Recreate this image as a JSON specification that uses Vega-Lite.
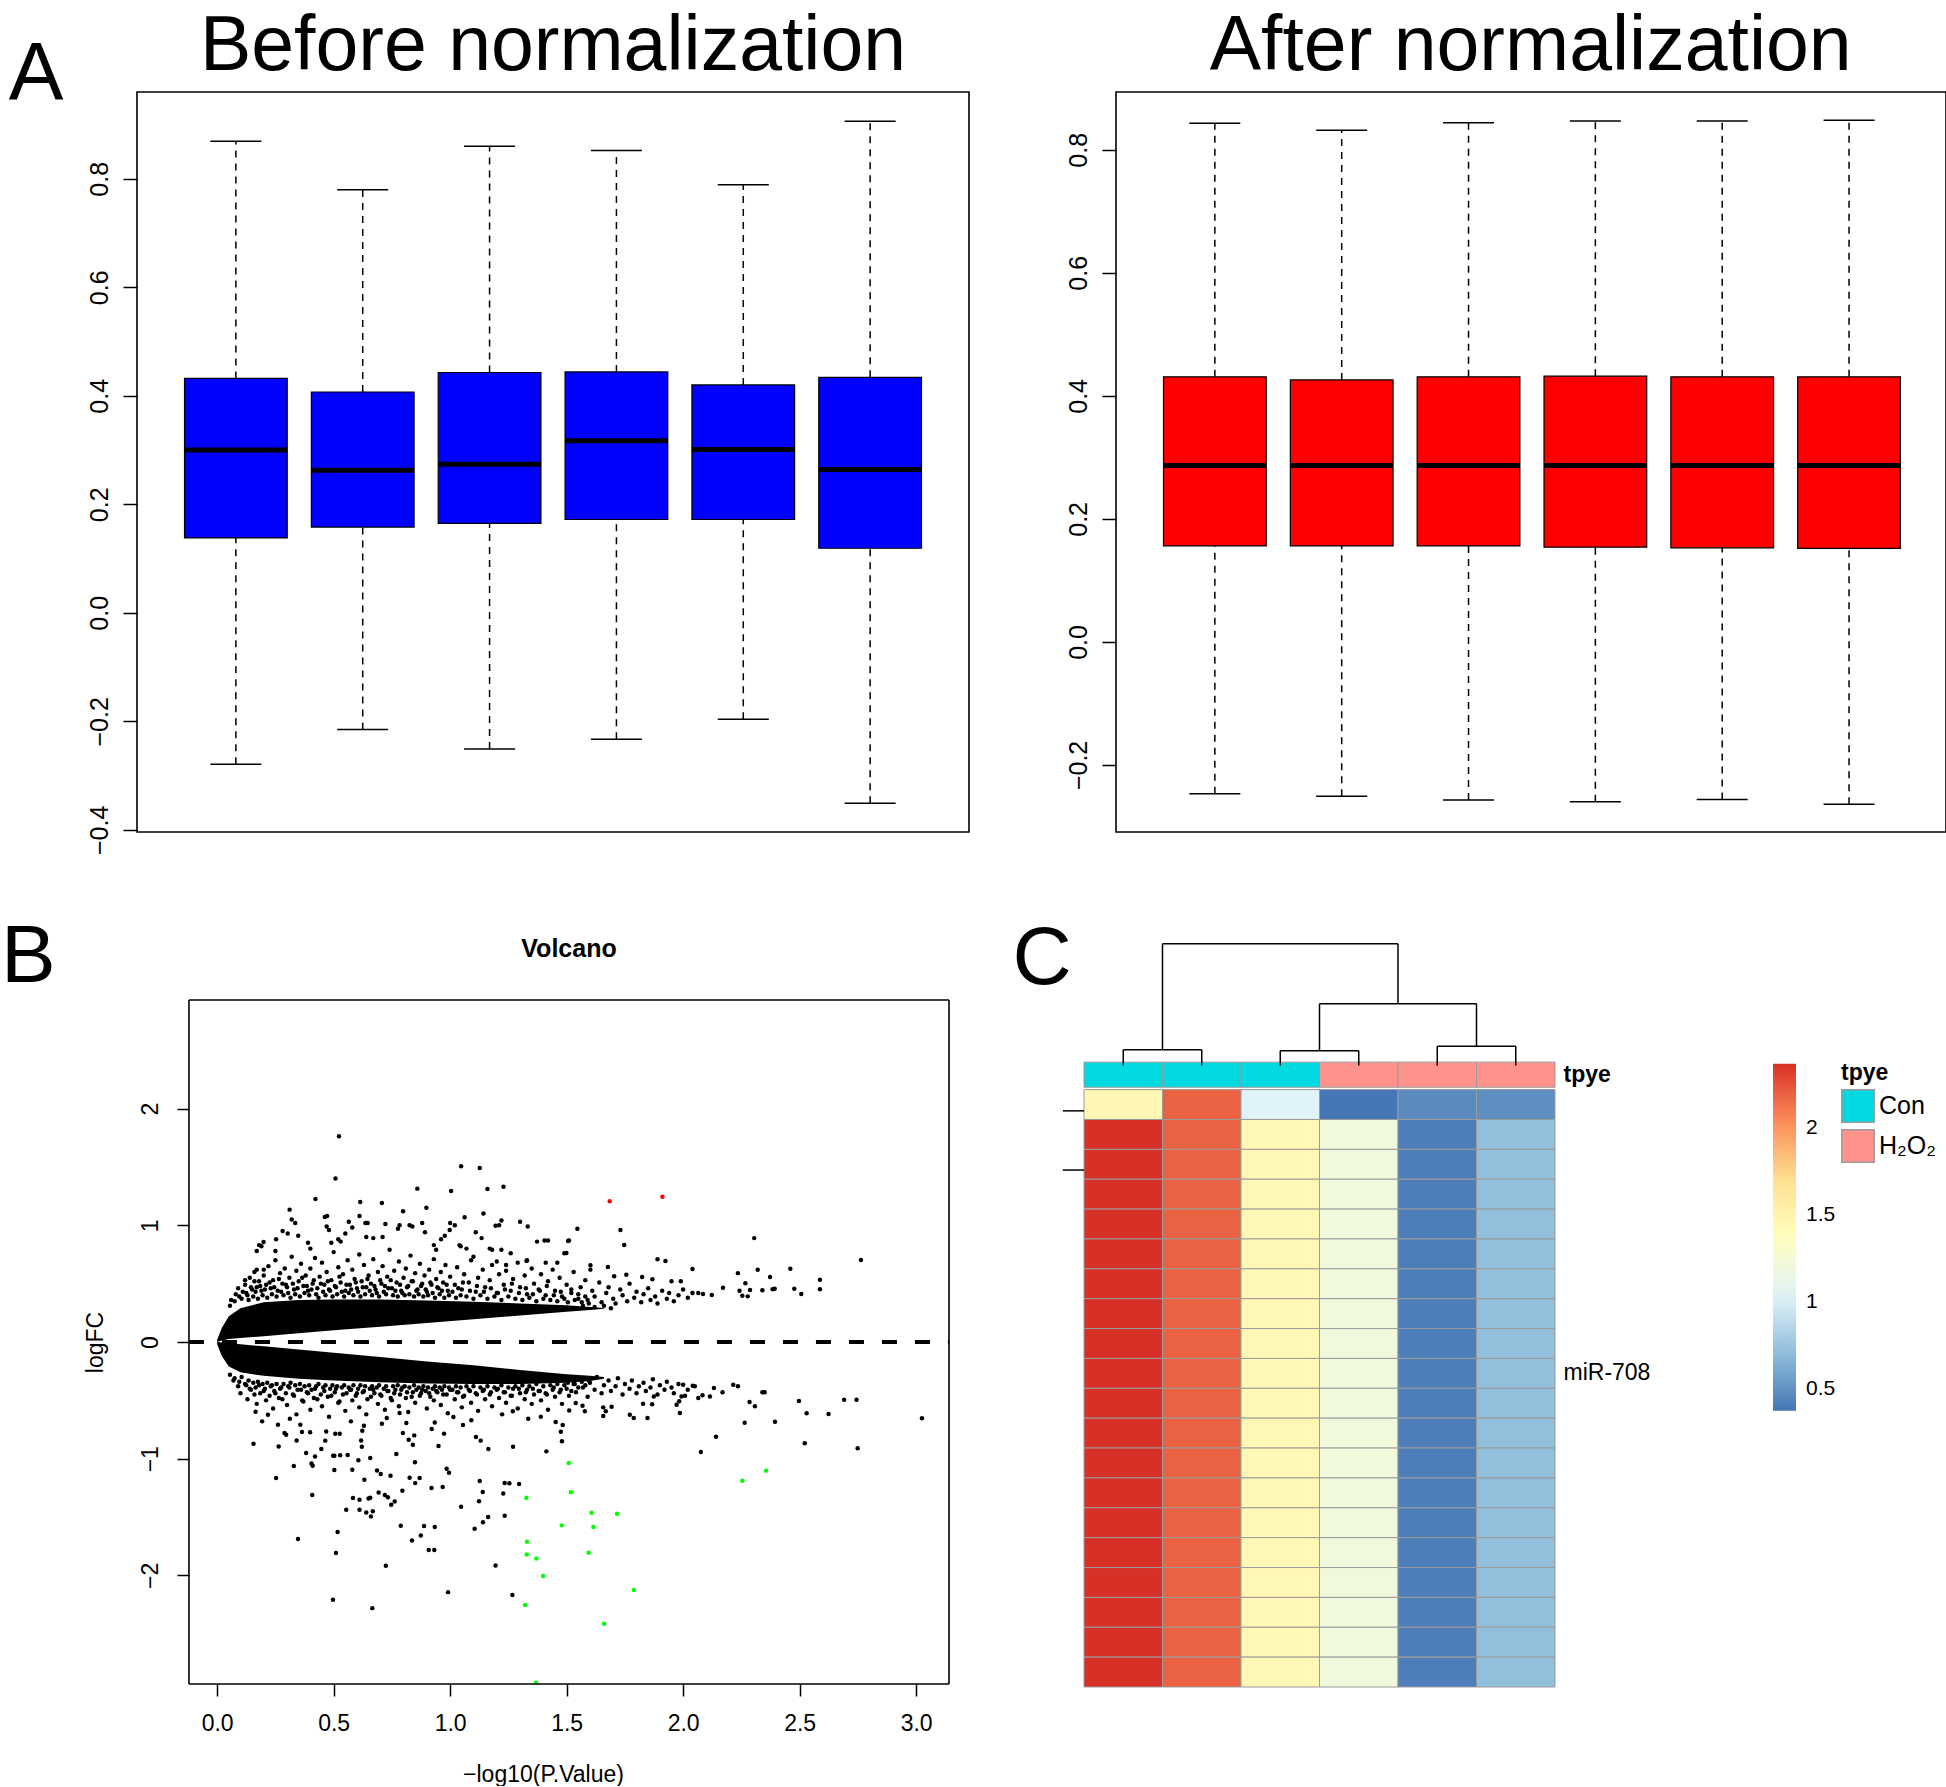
{
  "$schema": "https://vega.github.io/schema/vega-lite/v6.json",
  "background": "white",
  "padding": {"top": 7, "left": 0, "right": 0, "bottom": 0},
  "config": {
    "font": "Liberation Sans",
    "view": {"stroke": "black", "strokeWidth": 1.6},
    "axis": {"grid": false, "domain": false, "tickColor": "black", "tickWidth": 1.5, "labelColor": "black", "titleColor": "black", "titleFontWeight": "normal", "labelFlush": false, "labelOverlap": false, "labelBound": false},
    "legend": {"labelColor": "black", "titleColor": "black"},
    "text": {"color": "black"}
  },
  "datasets": {
    "before": [
      {"i": 1, "lo": -0.279, "q1": 0.138, "med": 0.300, "q3": 0.432, "hi": 0.869},
      {"i": 2, "lo": -0.215, "q1": 0.158, "med": 0.263, "q3": 0.407, "hi": 0.780},
      {"i": 3, "lo": -0.251, "q1": 0.165, "med": 0.274, "q3": 0.443, "hi": 0.860},
      {"i": 4, "lo": -0.233, "q1": 0.172, "med": 0.317, "q3": 0.444, "hi": 0.852},
      {"i": 5, "lo": -0.196, "q1": 0.172, "med": 0.301, "q3": 0.420, "hi": 0.789},
      {"i": 6, "lo": -0.351, "q1": 0.119, "med": 0.264, "q3": 0.434, "hi": 0.906}
    ],
    "after": [
      {"i": 1, "lo": -0.247, "q1": 0.156, "med": 0.287, "q3": 0.431, "hi": 0.843},
      {"i": 2, "lo": -0.251, "q1": 0.156, "med": 0.287, "q3": 0.426, "hi": 0.832},
      {"i": 3, "lo": -0.257, "q1": 0.156, "med": 0.287, "q3": 0.431, "hi": 0.844},
      {"i": 4, "lo": -0.260, "q1": 0.154, "med": 0.287, "q3": 0.432, "hi": 0.847},
      {"i": 5, "lo": -0.256, "q1": 0.153, "med": 0.287, "q3": 0.431, "hi": 0.847},
      {"i": 6, "lo": -0.264, "q1": 0.152, "med": 0.287, "q3": 0.431, "hi": 0.848}
    ],
    "band": [
      {"side": "u", "p": 0, "fc": 0.02, "fc2": 0},
      {"side": "u", "p": 0.02, "fc": 0.12, "fc2": 0.012},
      {"side": "u", "p": 0.05, "fc": 0.22, "fc2": 0.025},
      {"side": "u", "p": 0.1, "fc": 0.29, "fc2": 0.035},
      {"side": "u", "p": 0.2, "fc": 0.34, "fc2": 0.05},
      {"side": "u", "p": 0.35, "fc": 0.36, "fc2": 0.075},
      {"side": "u", "p": 0.5, "fc": 0.365, "fc2": 0.1},
      {"side": "u", "p": 0.7, "fc": 0.365, "fc2": 0.13},
      {"side": "u", "p": 0.9, "fc": 0.355, "fc2": 0.163},
      {"side": "u", "p": 1.1, "fc": 0.345, "fc2": 0.195},
      {"side": "u", "p": 1.3, "fc": 0.33, "fc2": 0.228},
      {"side": "u", "p": 1.5, "fc": 0.315, "fc2": 0.26},
      {"side": "u", "p": 1.6, "fc": 0.3, "fc2": 0.275},
      {"side": "u", "p": 1.66, "fc": 0.292, "fc2": 0.285},
      {"side": "d", "p": 0, "fc": 0, "fc2": -0.02},
      {"side": "d", "p": 0.02, "fc": -0.005, "fc2": -0.12},
      {"side": "d", "p": 0.05, "fc": -0.01, "fc2": -0.21},
      {"side": "d", "p": 0.1, "fc": -0.02, "fc2": -0.26},
      {"side": "d", "p": 0.2, "fc": -0.037, "fc2": -0.29},
      {"side": "d", "p": 0.35, "fc": -0.065, "fc2": -0.315},
      {"side": "d", "p": 0.5, "fc": -0.092, "fc2": -0.33},
      {"side": "d", "p": 0.7, "fc": -0.129, "fc2": -0.345},
      {"side": "d", "p": 0.9, "fc": -0.166, "fc2": -0.355},
      {"side": "d", "p": 1.1, "fc": -0.2, "fc2": -0.36},
      {"side": "d", "p": 1.3, "fc": -0.24, "fc2": -0.36},
      {"side": "d", "p": 1.5, "fc": -0.276, "fc2": -0.35},
      {"side": "d", "p": 1.6, "fc": -0.29, "fc2": -0.335},
      {"side": "d", "p": 1.66, "fc": -0.3, "fc2": -0.315}
    ],
    "ns": [
      {"p":0.523,"fc":1.763},{"p":0.508,"fc":1.4},{"p":1.047,"fc":1.505},{"p":1.127,"fc":1.49},{"p":0.859,"fc":1.314},{"p":1.004,"fc":1.294},{"p":1.16,"fc":1.31},{"p":1.229,"fc":1.331},{"p":0.422,"fc":1.225},{"p":0.614,"fc":1.2},{"p":0.707,"fc":1.19},{"p":0.311,"fc":1.134},{"p":0.798,"fc":1.12},{"p":0.898,"fc":1.15},{"p":1.062,"fc":1.068},{"p":1.143,"fc":1.1},{"p":0.462,"fc":1.07},{"p":0.472,"fc":1.08},{"p":0.611,"fc":1.08},{"p":0.32,"fc":1.05},{"p":0.335,"fc":1.02},{"p":1.3,"fc":1.03},{"p":1.333,"fc":0.99},{"p":1.22,"fc":1.04},{"p":1.21,"fc":1.0},{"p":1.195,"fc":0.995},{"p":0.281,"fc":0.951},{"p":0.303,"fc":0.93},{"p":0.348,"fc":0.91},{"p":0.199,"fc":0.857},{"p":0.253,"fc":0.88},{"p":0.47,"fc":0.99},{"p":0.48,"fc":0.96},{"p":0.565,"fc":1.03},{"p":0.58,"fc":0.98},{"p":0.636,"fc":1.02},{"p":0.646,"fc":1.02},{"p":0.722,"fc":1.01},{"p":0.776,"fc":0.97},{"p":0.783,"fc":1.0},{"p":0.826,"fc":1.0},{"p":0.838,"fc":0.99},{"p":0.88,"fc":1.02},{"p":0.892,"fc":0.94},{"p":1.0,"fc":1.02},{"p":1.02,"fc":1.0},{"p":1.11,"fc":0.94},{"p":1.135,"fc":0.89},{"p":1.42,"fc":0.87},{"p":1.51,"fc":0.87},{"p":1.49,"fc":0.76},{"p":1.41,"fc":0.68},{"p":1.46,"fc":0.68},{"p":1.33,"fc":0.7},{"p":0.71,"fc":0.9},{"p":0.67,"fc":0.89},{"p":0.64,"fc":0.9},{"p":0.55,"fc":0.93},{"p":0.52,"fc":0.88},{"p":0.49,"fc":0.85},{"p":0.53,"fc":0.86},{"p":0.39,"fc":0.85},{"p":0.4,"fc":0.8},{"p":0.17,"fc":0.78},{"p":0.19,"fc":0.82},{"p":0.18,"fc":0.83},{"p":0.25,"fc":0.78},{"p":0.961,"fc":0.88},{"p":0.977,"fc":0.91},{"p":0.998,"fc":0.96},{"p":0.93,"fc":0.83},{"p":0.94,"fc":0.79},{"p":1.04,"fc":0.83},{"p":1.045,"fc":0.82},{"p":1.07,"fc":0.8},{"p":1.1,"fc":0.73},{"p":1.17,"fc":0.8},{"p":1.18,"fc":0.79},{"p":1.22,"fc":0.79},{"p":1.24,"fc":0.66},{"p":1.26,"fc":0.76},{"p":1.2,"fc":0.69},{"p":0.12,"fc":0.53},{"p":0.16,"fc":0.52},{"p":0.17,"fc":0.62},{"p":0.2,"fc":0.62},
      {"p":1.546,"fc":0.971},{"p":1.506,"fc":0.865},{"p":1.731,"fc":0.96},{"p":1.747,"fc":0.831},{"p":2.305,"fc":0.89},{"p":2.763,"fc":0.703},{"p":1.89,"fc":0.708},{"p":1.924,"fc":0.694},{"p":2.04,"fc":0.625},{"p":2.235,"fc":0.59},{"p":2.32,"fc":0.619},{"p":2.373,"fc":0.556},{"p":2.46,"fc":0.627},{"p":2.587,"fc":0.534},{"p":2.587,"fc":0.452},{"p":2.477,"fc":0.457},{"p":2.507,"fc":0.411},{"p":2.34,"fc":0.443},{"p":2.384,"fc":0.452},{"p":2.393,"fc":0.457},{"p":2.242,"fc":0.44},{"p":2.254,"fc":0.397},{"p":2.277,"fc":0.391},{"p":2.287,"fc":0.446},{"p":2.267,"fc":0.503},{"p":2.171,"fc":0.465},{"p":2.123,"fc":0.402},{"p":2.085,"fc":0.411},{"p":2.065,"fc":0.42},{"p":1.677,"fc":0.643},{"p":1.602,"fc":0.657},{"p":1.602,"fc":0.62},{"p":1.499,"fc":0.763},{"p":1.704,"fc":0.563},{"p":1.756,"fc":0.577},{"p":1.824,"fc":0.557},{"p":1.868,"fc":0.537},{"p":1.99,"fc":0.52},{"p":1.95,"fc":0.52},{"p":1.405,"fc":0.87},{"p":1.373,"fc":0.86},{"p":1.328,"fc":0.695},
      {"p":0.06,"fc":0.36},{"p":0.08,"fc":0.41},{"p":0.09,"fc":0.46},{"p":0.11,"fc":0.43},{"p":0.12,"fc":0.49},{"p":0.13,"fc":0.4},{"p":0.14,"fc":0.55},{"p":0.15,"fc":0.45},{"p":0.16,"fc":0.6},{"p":0.17,"fc":0.47},{"p":0.18,"fc":0.52},{"p":0.19,"fc":0.44},{"p":0.2,"fc":0.57},{"p":0.21,"fc":0.49},{"p":0.22,"fc":0.65},{"p":0.23,"fc":0.46},{"p":0.24,"fc":0.53},{"p":0.25,"fc":0.7},{"p":0.26,"fc":0.44},{"p":0.27,"fc":0.59},{"p":0.28,"fc":0.5},{"p":0.29,"fc":0.63},{"p":0.3,"fc":0.47},{"p":0.31,"fc":0.55},{"p":0.32,"fc":0.73},{"p":0.33,"fc":0.45},{"p":0.34,"fc":0.61},{"p":0.35,"fc":0.52},{"p":0.36,"fc":0.67},{"p":0.37,"fc":0.48},{"p":0.38,"fc":0.57},{"p":0.39,"fc":0.44},{"p":0.4,"fc":0.63},{"p":0.41,"fc":0.5},{"p":0.42,"fc":0.72},{"p":0.43,"fc":0.46},{"p":0.44,"fc":0.56},{"p":0.45,"fc":0.68},{"p":0.46,"fc":0.49},{"p":0.47,"fc":0.6},{"p":0.48,"fc":0.45},{"p":0.49,"fc":0.53},{"p":0.5,"fc":0.77},{"p":0.51,"fc":0.47},{"p":0.52,"fc":0.64},{"p":0.53,"fc":0.51},{"p":0.54,"fc":0.58},{"p":0.55,"fc":0.44},{"p":0.56,"fc":0.7},{"p":0.57,"fc":0.49},{"p":0.58,"fc":0.62},{"p":0.59,"fc":0.54},{"p":0.6,"fc":0.46},{"p":0.61,"fc":0.75},{"p":0.62,"fc":0.52},{"p":0.63,"fc":0.66},{"p":0.64,"fc":0.47},{"p":0.65,"fc":0.57},{"p":0.66,"fc":0.5},{"p":0.67,"fc":0.71},{"p":0.68,"fc":0.45},{"p":0.69,"fc":0.6},{"p":0.7,"fc":0.53},{"p":0.71,"fc":0.65},{"p":0.72,"fc":0.48},{"p":0.73,"fc":0.56},{"p":0.74,"fc":0.79},{"p":0.75,"fc":0.46},{"p":0.76,"fc":0.61},{"p":0.77,"fc":0.51},{"p":0.78,"fc":0.69},{"p":0.79,"fc":0.44},{"p":0.8,"fc":0.55},{"p":0.81,"fc":0.63},{"p":0.82,"fc":0.48},{"p":0.83,"fc":0.74},{"p":0.84,"fc":0.52},{"p":0.85,"fc":0.59},{"p":0.86,"fc":0.45},{"p":0.87,"fc":0.67},{"p":0.88,"fc":0.5},{"p":0.89,"fc":0.57},{"p":0.9,"fc":0.43},{"p":0.91,"fc":0.62},{"p":0.92,"fc":0.49},{"p":0.93,"fc":0.71},{"p":0.94,"fc":0.54},{"p":0.95,"fc":0.46},{"p":0.96,"fc":0.6},{"p":0.97,"fc":0.51},{"p":0.98,"fc":0.66},{"p":0.99,"fc":0.44},{"p":1.0,"fc":0.56},{"p":1.02,"fc":0.49},{"p":1.03,"fc":0.64},{"p":1.05,"fc":0.45},{"p":1.06,"fc":0.58},{"p":1.08,"fc":0.51},{"p":1.09,"fc":0.7},{"p":1.11,"fc":0.43},{"p":1.12,"fc":0.55},{"p":1.14,"fc":0.62},{"p":1.15,"fc":0.47},{"p":1.17,"fc":0.53},{"p":1.18,"fc":0.66},{"p":1.2,"fc":0.42},{"p":1.21,"fc":0.58},{"p":1.23,"fc":0.49},{"p":1.24,"fc":0.61},{"p":1.26,"fc":0.44},{"p":1.27,"fc":0.54},{"p":1.29,"fc":0.68},{"p":1.3,"fc":0.47},{"p":1.32,"fc":0.57},{"p":1.33,"fc":0.41},{"p":1.35,"fc":0.63},{"p":1.36,"fc":0.5},{"p":1.38,"fc":0.45},{"p":1.39,"fc":0.58},{"p":1.41,"fc":0.4},{"p":1.42,"fc":0.52},{"p":1.44,"fc":0.62},{"p":1.45,"fc":0.44},{"p":1.47,"fc":0.55},{"p":1.48,"fc":0.39},{"p":1.5,"fc":0.49},{"p":1.52,"fc":0.42},{"p":1.53,"fc":0.6},{"p":1.55,"fc":0.37},{"p":1.56,"fc":0.47},{"p":1.58,"fc":0.53},{"p":1.59,"fc":0.36},{"p":1.61,"fc":0.44},{"p":1.62,"fc":0.39},{"p":1.64,"fc":0.51},{"p":1.65,"fc":0.34},{"p":1.67,"fc":0.42},{"p":1.68,"fc":0.47},{"p":1.7,"fc":0.37},{"p":1.71,"fc":0.33},{"p":1.73,"fc":0.45},{"p":1.74,"fc":0.4},{"p":1.76,"fc":0.35},{"p":1.77,"fc":0.5},{"p":1.79,"fc":0.38},{"p":1.8,"fc":0.43},{"p":1.82,"fc":0.34},{"p":1.83,"fc":0.41},{"p":1.85,"fc":0.46},{"p":1.86,"fc":0.36},{"p":1.88,"fc":0.39},{"p":1.89,"fc":0.33},{"p":1.91,"fc":0.44},{"p":1.93,"fc":0.37},{"p":1.94,"fc":0.42},{"p":1.96,"fc":0.35},{"p":1.98,"fc":0.4},{"p":2.0,"fc":0.45},{"p":2.02,"fc":0.38},{"p":2.04,"fc":0.42},{"p":1.52,"fc":0.29},{"p":1.57,"fc":0.31},{"p":1.62,"fc":0.3},{"p":1.66,"fc":0.31},{"p":1.69,"fc":0.29},
      {"p":0.055,"fc":0.31},{"p":0.075,"fc":0.35},{"p":0.095,"fc":0.39},{"p":0.105,"fc":0.37},{"p":0.125,"fc":0.42},{"p":0.135,"fc":0.36},{"p":0.145,"fc":0.47},{"p":0.155,"fc":0.39},{"p":0.165,"fc":0.43},{"p":0.175,"fc":0.37},{"p":0.185,"fc":0.48},{"p":0.195,"fc":0.4},{"p":0.205,"fc":0.45},{"p":0.215,"fc":0.38},{"p":0.225,"fc":0.51},{"p":0.235,"fc":0.41},{"p":0.245,"fc":0.47},{"p":0.255,"fc":0.39},{"p":0.265,"fc":0.54},{"p":0.275,"fc":0.43},{"p":0.285,"fc":0.4},{"p":0.295,"fc":0.49},{"p":0.305,"fc":0.42},{"p":0.315,"fc":0.38},{"p":0.325,"fc":0.5},{"p":0.335,"fc":0.41},{"p":0.345,"fc":0.46},{"p":0.355,"fc":0.39},{"p":0.365,"fc":0.55},{"p":0.375,"fc":0.42},{"p":0.385,"fc":0.48},{"p":0.395,"fc":0.4},{"p":0.405,"fc":0.45},{"p":0.415,"fc":0.53},{"p":0.425,"fc":0.41},{"p":0.435,"fc":0.38},{"p":0.445,"fc":0.5},{"p":0.455,"fc":0.43},{"p":0.465,"fc":0.4},{"p":0.475,"fc":0.52},{"p":0.485,"fc":0.44},{"p":0.495,"fc":0.39},{"p":0.505,"fc":0.48},{"p":0.515,"fc":0.41},{"p":0.525,"fc":0.56},{"p":0.535,"fc":0.43},{"p":0.545,"fc":0.39},{"p":0.555,"fc":0.49},{"p":0.565,"fc":0.42},{"p":0.575,"fc":0.45},{"p":0.585,"fc":0.4},{"p":0.595,"fc":0.51},{"p":0.605,"fc":0.43},{"p":0.615,"fc":0.39},{"p":0.625,"fc":0.47},{"p":0.635,"fc":0.41},{"p":0.645,"fc":0.54},{"p":0.655,"fc":0.44},{"p":0.665,"fc":0.4},{"p":0.675,"fc":0.48},{"p":0.685,"fc":0.42},{"p":0.695,"fc":0.39},{"p":0.705,"fc":0.5},{"p":0.715,"fc":0.43},{"p":0.725,"fc":0.41},{"p":0.735,"fc":0.46},{"p":0.745,"fc":0.53},{"p":0.755,"fc":0.4},{"p":0.765,"fc":0.44},{"p":0.775,"fc":0.39},{"p":0.785,"fc":0.49},{"p":0.795,"fc":0.42},{"p":0.805,"fc":0.4},{"p":0.815,"fc":0.47},{"p":0.825,"fc":0.41},{"p":0.835,"fc":0.52},{"p":0.845,"fc":0.39},{"p":0.855,"fc":0.44},{"p":0.865,"fc":0.41},{"p":0.875,"fc":0.48},{"p":0.885,"fc":0.39},{"p":0.895,"fc":0.45},{"p":0.905,"fc":0.4},{"p":0.915,"fc":0.51},{"p":0.925,"fc":0.42},{"p":0.935,"fc":0.38},{"p":0.945,"fc":0.47},{"p":0.955,"fc":0.41},{"p":0.965,"fc":0.44},{"p":0.975,"fc":0.38},{"p":0.985,"fc":0.49},{"p":0.995,"fc":0.4},{"p":1.01,"fc":0.43},{"p":1.025,"fc":0.38},{"p":1.035,"fc":0.46},{"p":1.045,"fc":0.4},{"p":1.055,"fc":0.51},{"p":1.07,"fc":0.39},{"p":1.085,"fc":0.44},{"p":1.1,"fc":0.37},{"p":1.115,"fc":0.48},{"p":1.13,"fc":0.4},{"p":1.145,"fc":0.43},{"p":1.16,"fc":0.37},{"p":1.175,"fc":0.46},{"p":1.19,"fc":0.39},{"p":1.205,"fc":0.42},{"p":1.22,"fc":0.36},{"p":1.235,"fc":0.45},{"p":1.25,"fc":0.39},{"p":1.265,"fc":0.5},{"p":1.28,"fc":0.37},{"p":1.295,"fc":0.42},{"p":1.31,"fc":0.36},{"p":1.325,"fc":0.46},{"p":1.34,"fc":0.38},{"p":1.355,"fc":0.41},{"p":1.37,"fc":0.35},{"p":1.385,"fc":0.44},{"p":1.4,"fc":0.37},{"p":1.415,"fc":0.48},{"p":1.43,"fc":0.36},{"p":1.445,"fc":0.4},{"p":1.46,"fc":0.35},{"p":1.475,"fc":0.43},{"p":1.49,"fc":0.37},{"p":1.505,"fc":0.34},{"p":1.52,"fc":0.45},{"p":1.535,"fc":0.36},{"p":1.55,"fc":0.41},{"p":1.565,"fc":0.34},{"p":1.58,"fc":0.39},{"p":1.595,"fc":0.33},
      {"p":0.07,"fc":-0.33},{"p":0.09,"fc":-0.38},{"p":0.1,"fc":-0.44},{"p":0.12,"fc":-0.36},{"p":0.13,"fc":-0.49},{"p":0.14,"fc":-0.4},{"p":0.16,"fc":-0.45},{"p":0.17,"fc":-0.53},{"p":0.18,"fc":-0.37},{"p":0.2,"fc":-0.42},{"p":0.21,"fc":-0.5},{"p":0.23,"fc":-0.38},{"p":0.24,"fc":-0.57},{"p":0.25,"fc":-0.44},{"p":0.27,"fc":-0.4},{"p":0.28,"fc":-0.49},{"p":0.3,"fc":-0.54},{"p":0.31,"fc":-0.39},{"p":0.33,"fc":-0.46},{"p":0.34,"fc":-0.62},{"p":0.36,"fc":-0.41},{"p":0.37,"fc":-0.51},{"p":0.39,"fc":-0.44},{"p":0.4,"fc":-0.58},{"p":0.42,"fc":-0.4},{"p":0.43,"fc":-0.49},{"p":0.45,"fc":-0.55},{"p":0.46,"fc":-0.42},{"p":0.48,"fc":-0.64},{"p":0.49,"fc":-0.46},{"p":0.51,"fc":-0.4},{"p":0.52,"fc":-0.52},{"p":0.54,"fc":-0.45},{"p":0.55,"fc":-0.59},{"p":0.57,"fc":-0.41},{"p":0.58,"fc":-0.5},{"p":0.6,"fc":-0.44},{"p":0.61,"fc":-0.56},{"p":0.63,"fc":-0.42},{"p":0.64,"fc":-0.62},{"p":0.66,"fc":-0.47},{"p":0.67,"fc":-0.41},{"p":0.69,"fc":-0.53},{"p":0.7,"fc":-0.45},{"p":0.72,"fc":-0.58},{"p":0.73,"fc":-0.42},{"p":0.75,"fc":-0.5},{"p":0.76,"fc":-0.44},{"p":0.78,"fc":-0.55},{"p":0.79,"fc":-0.41},{"p":0.81,"fc":-0.48},{"p":0.82,"fc":-0.6},{"p":0.84,"fc":-0.43},{"p":0.85,"fc":-0.52},{"p":0.87,"fc":-0.46},{"p":0.88,"fc":-0.41},{"p":0.9,"fc":-0.57},{"p":0.91,"fc":-0.44},{"p":0.93,"fc":-0.5},{"p":0.94,"fc":-0.42},{"p":0.96,"fc":-0.54},{"p":0.97,"fc":-0.45},{"p":0.99,"fc":-0.61},{"p":1.0,"fc":-0.41},{"p":1.02,"fc":-0.49},{"p":1.03,"fc":-0.43},{"p":1.05,"fc":-0.56},{"p":1.06,"fc":-0.46},{"p":1.08,"fc":-0.41},{"p":1.09,"fc":-0.52},{"p":1.11,"fc":-0.44},{"p":1.12,"fc":-0.59},{"p":1.14,"fc":-0.42},{"p":1.15,"fc":-0.49},{"p":1.17,"fc":-0.45},{"p":1.18,"fc":-0.55},{"p":1.2,"fc":-0.41},{"p":1.21,"fc":-0.48},{"p":1.23,"fc":-0.43},{"p":1.24,"fc":-0.52},{"p":1.26,"fc":-0.46},{"p":1.27,"fc":-0.4},{"p":1.29,"fc":-0.57},{"p":1.3,"fc":-0.44},{"p":1.32,"fc":-0.49},{"p":1.33,"fc":-0.41},{"p":1.35,"fc":-0.53},{"p":1.36,"fc":-0.45},{"p":1.38,"fc":-0.42},{"p":1.39,"fc":-0.5},{"p":1.41,"fc":-0.44},{"p":1.42,"fc":-0.58},{"p":1.44,"fc":-0.41},{"p":1.45,"fc":-0.47},{"p":1.47,"fc":-0.43},{"p":1.48,"fc":-0.53},{"p":1.5,"fc":-0.4},{"p":1.51,"fc":-0.46},{"p":1.53,"fc":-0.36},{"p":1.54,"fc":-0.43},{"p":1.56,"fc":-0.32},{"p":1.57,"fc":-0.39},{"p":1.59,"fc":-0.47},{"p":1.6,"fc":-0.35},{"p":1.62,"fc":-0.41},{"p":1.63,"fc":-0.3},{"p":1.65,"fc":-0.44},{"p":1.66,"fc":-0.37},{"p":1.68,"fc":-0.33},{"p":1.69,"fc":-0.42},{"p":1.71,"fc":-0.38},{"p":1.72,"fc":-0.31},{"p":1.74,"fc":-0.45},{"p":1.75,"fc":-0.36},{"p":1.77,"fc":-0.4},{"p":1.78,"fc":-0.33},{"p":1.8,"fc":-0.44},{"p":1.81,"fc":-0.38},{"p":1.83,"fc":-0.35},{"p":1.84,"fc":-0.42},{"p":1.86,"fc":-0.39},{"p":1.87,"fc":-0.32},{"p":1.89,"fc":-0.45},{"p":1.9,"fc":-0.37},{"p":1.92,"fc":-0.41},{"p":1.93,"fc":-0.34},{"p":1.95,"fc":-0.39},{"p":1.96,"fc":-0.44},{"p":1.98,"fc":-0.36},{"p":2.02,"fc":-0.41},{"p":2.05,"fc":-0.38},
      {"p":0.055,"fc":-0.28},{"p":0.075,"fc":-0.31},{"p":0.095,"fc":-0.34},{"p":0.105,"fc":-0.3},{"p":0.125,"fc":-0.37},{"p":0.135,"fc":-0.33},{"p":0.145,"fc":-0.41},{"p":0.155,"fc":-0.35},{"p":0.165,"fc":-0.39},{"p":0.175,"fc":-0.34},{"p":0.185,"fc":-0.44},{"p":0.195,"fc":-0.36},{"p":0.205,"fc":-0.4},{"p":0.215,"fc":-0.35},{"p":0.225,"fc":-0.46},{"p":0.235,"fc":-0.37},{"p":0.245,"fc":-0.42},{"p":0.255,"fc":-0.36},{"p":0.265,"fc":-0.48},{"p":0.275,"fc":-0.39},{"p":0.285,"fc":-0.36},{"p":0.295,"fc":-0.44},{"p":0.305,"fc":-0.38},{"p":0.315,"fc":-0.35},{"p":0.325,"fc":-0.45},{"p":0.335,"fc":-0.37},{"p":0.345,"fc":-0.41},{"p":0.355,"fc":-0.36},{"p":0.365,"fc":-0.5},{"p":0.375,"fc":-0.38},{"p":0.385,"fc":-0.43},{"p":0.395,"fc":-0.37},{"p":0.405,"fc":-0.41},{"p":0.415,"fc":-0.48},{"p":0.425,"fc":-0.38},{"p":0.435,"fc":-0.36},{"p":0.445,"fc":-0.45},{"p":0.455,"fc":-0.39},{"p":0.465,"fc":-0.37},{"p":0.475,"fc":-0.47},{"p":0.485,"fc":-0.4},{"p":0.495,"fc":-0.37},{"p":0.505,"fc":-0.43},{"p":0.515,"fc":-0.38},{"p":0.525,"fc":-0.51},{"p":0.535,"fc":-0.39},{"p":0.545,"fc":-0.37},{"p":0.555,"fc":-0.44},{"p":0.565,"fc":-0.39},{"p":0.575,"fc":-0.41},{"p":0.585,"fc":-0.37},{"p":0.595,"fc":-0.46},{"p":0.605,"fc":-0.4},{"p":0.615,"fc":-0.37},{"p":0.625,"fc":-0.43},{"p":0.635,"fc":-0.38},{"p":0.645,"fc":-0.49},{"p":0.655,"fc":-0.4},{"p":0.665,"fc":-0.38},{"p":0.675,"fc":-0.44},{"p":0.685,"fc":-0.39},{"p":0.695,"fc":-0.37},{"p":0.705,"fc":-0.46},{"p":0.715,"fc":-0.4},{"p":0.725,"fc":-0.38},{"p":0.735,"fc":-0.42},{"p":0.745,"fc":-0.48},{"p":0.755,"fc":-0.38},{"p":0.765,"fc":-0.41},{"p":0.775,"fc":-0.37},{"p":0.785,"fc":-0.45},{"p":0.795,"fc":-0.39},{"p":0.805,"fc":-0.38},{"p":0.815,"fc":-0.43},{"p":0.825,"fc":-0.39},{"p":0.835,"fc":-0.47},{"p":0.845,"fc":-0.37},{"p":0.855,"fc":-0.41},{"p":0.865,"fc":-0.39},{"p":0.875,"fc":-0.44},{"p":0.885,"fc":-0.38},{"p":0.895,"fc":-0.42},{"p":0.905,"fc":-0.39},{"p":0.915,"fc":-0.47},{"p":0.925,"fc":-0.4},{"p":0.935,"fc":-0.38},{"p":0.945,"fc":-0.43},{"p":0.955,"fc":-0.39},{"p":0.965,"fc":-0.41},{"p":0.975,"fc":-0.38},{"p":0.985,"fc":-0.45},{"p":0.995,"fc":-0.39},{"p":1.01,"fc":-0.41},{"p":1.025,"fc":-0.38},{"p":1.035,"fc":-0.43},{"p":1.045,"fc":-0.39},{"p":1.055,"fc":-0.47},{"p":1.07,"fc":-0.38},{"p":1.085,"fc":-0.42},{"p":1.1,"fc":-0.38},{"p":1.115,"fc":-0.45},{"p":1.13,"fc":-0.39},{"p":1.145,"fc":-0.41},{"p":1.16,"fc":-0.38},{"p":1.175,"fc":-0.43},{"p":1.19,"fc":-0.39},{"p":1.205,"fc":-0.4},{"p":1.22,"fc":-0.37},{"p":1.235,"fc":-0.43},{"p":1.25,"fc":-0.39},{"p":1.265,"fc":-0.46},{"p":1.28,"fc":-0.38},{"p":1.295,"fc":-0.4},{"p":1.31,"fc":-0.37},{"p":1.325,"fc":-0.43},{"p":1.34,"fc":-0.38},{"p":1.355,"fc":-0.4},{"p":1.37,"fc":-0.36},{"p":1.385,"fc":-0.42},{"p":1.4,"fc":-0.38},{"p":1.415,"fc":-0.45},{"p":1.43,"fc":-0.37},{"p":1.445,"fc":-0.39},{"p":1.46,"fc":-0.36},{"p":1.475,"fc":-0.41},{"p":1.49,"fc":-0.37},{"p":1.505,"fc":-0.35},{"p":1.52,"fc":-0.42},{"p":1.535,"fc":-0.36},{"p":1.55,"fc":-0.39},{"p":1.565,"fc":-0.34},{"p":1.58,"fc":-0.37},{"p":1.595,"fc":-0.33},
      {"p":0.156,"fc":-0.871},{"p":0.264,"fc":-0.896},{"p":0.253,"fc":-1.165},{"p":0.329,"fc":-1.063},{"p":0.347,"fc":-1.688},{"p":0.408,"fc":-1.31},{"p":0.405,"fc":-1.04},{"p":0.41,"fc":-1.06},{"p":0.497,"fc":-2.208},{"p":0.51,"fc":-1.808},{"p":0.517,"fc":-1.628},{"p":0.503,"fc":-1.097},{"p":0.503,"fc":-0.974},{"p":0.554,"fc":-1.437},{"p":0.583,"fc":-1.337},{"p":0.611,"fc":-1.351},{"p":0.611,"fc":-1.437},{"p":0.64,"fc":-1.46},{"p":0.66,"fc":-1.494},{"p":0.668,"fc":-1.45},{"p":0.666,"fc":-2.28},{"p":0.65,"fc":-1.34},{"p":0.657,"fc":-1.335},{"p":0.58,"fc":-1.094},{"p":0.632,"fc":-1.18},{"p":0.606,"fc":-1.014},{"p":0.657,"fc":-0.994},{"p":0.693,"fc":-1.29},{"p":0.72,"fc":-1.31},{"p":0.733,"fc":-1.33},{"p":0.747,"fc":-1.394},{"p":0.762,"fc":-1.366},{"p":0.724,"fc":-1.917},{"p":0.686,"fc":-1.1},{"p":0.702,"fc":-1.13},{"p":0.744,"fc":-1.145},{"p":0.788,"fc":-1.574},{"p":0.795,"fc":-1.274},{"p":0.836,"fc":-1.7},{"p":0.874,"fc":-1.657},{"p":0.888,"fc":-1.577},{"p":0.934,"fc":-1.585},{"p":0.908,"fc":-1.782},{"p":0.932,"fc":-1.782},{"p":0.826,"fc":-1.163},{"p":0.85,"fc":-1.209},{"p":0.869,"fc":-1.166},{"p":0.849,"fc":-1.031},{"p":0.92,"fc":-1.251},{"p":0.968,"fc":-1.243},{"p":0.991,"fc":-2.143},{"p":0.985,"fc":-1.085},{"p":0.995,"fc":-1.12},{"p":1.047,"fc":-1.411},{"p":1.105,"fc":-1.6},{"p":1.124,"fc":-1.365},{"p":1.14,"fc":-1.285},{"p":1.127,"fc":-1.19},{"p":1.141,"fc":-1.545},{"p":1.163,"fc":-1.499},{"p":1.195,"fc":-1.914},{"p":1.234,"fc":-1.488},{"p":1.228,"fc":-1.297},{"p":1.234,"fc":-1.208},{"p":1.254,"fc":-1.211},{"p":1.296,"fc":-1.217},{"p":1.267,"fc":-2.168},{"p":1.413,"fc":-0.937},{"p":1.164,"fc":-0.917},{"p":1.27,"fc":-0.897},{"p":1.111,"fc":-0.814},{"p":1.131,"fc":-0.845},{"p":0.95,"fc":-0.891},{"p":0.974,"fc":-0.785},{"p":0.769,"fc":-0.96},{"p":0.846,"fc":-0.8},{"p":0.822,"fc":-0.837},{"p":0.84,"fc":-0.88},{"p":0.812,"fc":-0.694},{"p":0.797,"fc":-0.78},{"p":0.783,"fc":-0.609},{"p":0.728,"fc":-0.651},{"p":0.621,"fc":-0.897},{"p":0.618,"fc":-0.843},{"p":0.56,"fc":-0.968},{"p":0.528,"fc":-0.971},{"p":0.498,"fc":-0.974},{"p":0.447,"fc":-0.917},{"p":0.42,"fc":-0.98},{"p":0.382,"fc":-0.951},{"p":0.341,"fc":-0.843},{"p":0.296,"fc":-0.794},{"p":0.289,"fc":-0.78},{"p":0.312,"fc":-0.657},{"p":0.261,"fc":-0.709},{"p":0.193,"fc":-0.68},{"p":0.218,"fc":-0.623},{"p":0.165,"fc":-0.597},{"p":0.364,"fc":-0.771},{"p":0.399,"fc":-0.774},{"p":0.357,"fc":-0.709},{"p":0.468,"fc":-0.766},{"p":0.464,"fc":-0.845},{"p":0.507,"fc":-0.786},{"p":0.526,"fc":-0.786},{"p":0.574,"fc":-0.68},{"p":0.623,"fc":-0.76},{"p":0.63,"fc":-0.717},{"p":0.707,"fc":-0.7},{"p":0.934,"fc":-0.689},{"p":0.921,"fc":-0.746},{"p":1.014,"fc":-0.643},{"p":1.055,"fc":-0.711},{"p":1.091,"fc":-0.671},{"p":1.335,"fc":-0.657},{"p":1.389,"fc":-0.64},{"p":1.453,"fc":-0.686},{"p":1.475,"fc":-0.769},{"p":1.48,"fc":-0.851},{"p":1.483,"fc":-0.711},{"p":1.223,"fc":-0.62},{"p":1.269,"fc":-0.594},
      {"p":2.076,"fc":-0.943},{"p":2.141,"fc":-0.811},{"p":2.264,"fc":-0.691},{"p":2.394,"fc":-0.683},{"p":2.522,"fc":-0.868},{"p":2.53,"fc":-0.611},{"p":2.624,"fc":-0.617},{"p":2.497,"fc":-0.506},{"p":2.691,"fc":-0.494},{"p":2.744,"fc":-0.494},{"p":2.749,"fc":-0.911},{"p":3.025,"fc":-0.654},{"p":2.285,"fc":-0.514},{"p":2.308,"fc":-0.551},{"p":2.34,"fc":-0.43},{"p":2.35,"fc":-0.43},{"p":2.215,"fc":-0.366},{"p":2.235,"fc":-0.38},{"p":2.169,"fc":-0.431},{"p":2.132,"fc":-0.394},{"p":2.115,"fc":-0.466},{"p":1.986,"fc":-0.608},{"p":1.972,"fc":-0.537},{"p":1.983,"fc":-0.508},{"p":1.993,"fc":-0.466},{"p":2.008,"fc":-0.46},{"p":2.041,"fc":-0.374},{"p":2.0,"fc":-0.366},{"p":2.065,"fc":-0.48},{"p":2.083,"fc":-0.457},{"p":1.847,"fc":-0.651},{"p":1.788,"fc":-0.651},{"p":1.771,"fc":-0.623},{"p":1.657,"fc":-0.634},{"p":1.668,"fc":-0.594},{"p":1.693,"fc":-0.554},{"p":1.657,"fc":-0.56},{"p":1.578,"fc":-0.594},{"p":1.568,"fc":-0.546},{"p":1.539,"fc":-0.523},{"p":1.511,"fc":-0.586},{"p":1.867,"fc":-0.534},{"p":1.828,"fc":-0.529},{"p":1.874,"fc":-0.466}
    ],
    "up": [{"p":1.685,"fc":1.205},{"p":1.911,"fc":1.245}],
    "down": [
      {"p":1.327,"fc":-1.334},{"p":1.509,"fc":-1.037},{"p":1.518,"fc":-1.288},{"p":1.479,"fc":-1.571},{"p":1.33,"fc":-1.711},{"p":1.329,"fc":-1.82},{"p":1.37,"fc":-1.854},{"p":1.399,"fc":-2.005},{"p":1.322,"fc":-2.254},{"p":1.369,"fc":-2.92},{"p":1.607,"fc":-1.463},{"p":1.716,"fc":-1.471},{"p":1.615,"fc":-1.585},{"p":1.594,"fc":-1.805},{"p":1.788,"fc":-2.125},{"p":1.661,"fc":-2.414},{"p":2.254,"fc":-1.188},{"p":2.356,"fc":-1.102}
    ],
    "heat": [
      {"s":"Con1","m":"row1","v":1.46},{"s":"Con2","m":"row1","v":2.19},{"s":"Con3","m":"row1","v":1.04},{"s":"H2O2_1","m":"row1","v":0.38},{"s":"H2O2_2","m":"row1","v":0.47},{"s":"H2O2_3","m":"row1","v":0.49},
      {"s":"Con1","m":"row2","v":2.37},{"s":"Con2","m":"row2","v":2.19},{"s":"Con3","m":"row2","v":1.44},{"s":"H2O2_1","m":"row2","v":1.21},{"s":"H2O2_2","m":"row2","v":0.415},{"s":"H2O2_3","m":"row2","v":0.71},
      {"s":"Con1","m":"row3","v":2.37},{"s":"Con2","m":"row3","v":2.19},{"s":"Con3","m":"row3","v":1.44},{"s":"H2O2_1","m":"row3","v":1.21},{"s":"H2O2_2","m":"row3","v":0.415},{"s":"H2O2_3","m":"row3","v":0.71},
      {"s":"Con1","m":"row4","v":2.37},{"s":"Con2","m":"row4","v":2.19},{"s":"Con3","m":"row4","v":1.44},{"s":"H2O2_1","m":"row4","v":1.21},{"s":"H2O2_2","m":"row4","v":0.415},{"s":"H2O2_3","m":"row4","v":0.71},
      {"s":"Con1","m":"row5","v":2.37},{"s":"Con2","m":"row5","v":2.19},{"s":"Con3","m":"row5","v":1.44},{"s":"H2O2_1","m":"row5","v":1.21},{"s":"H2O2_2","m":"row5","v":0.415},{"s":"H2O2_3","m":"row5","v":0.71},
      {"s":"Con1","m":"row6","v":2.37},{"s":"Con2","m":"row6","v":2.19},{"s":"Con3","m":"row6","v":1.44},{"s":"H2O2_1","m":"row6","v":1.21},{"s":"H2O2_2","m":"row6","v":0.415},{"s":"H2O2_3","m":"row6","v":0.71},
      {"s":"Con1","m":"row7","v":2.37},{"s":"Con2","m":"row7","v":2.19},{"s":"Con3","m":"row7","v":1.44},{"s":"H2O2_1","m":"row7","v":1.21},{"s":"H2O2_2","m":"row7","v":0.415},{"s":"H2O2_3","m":"row7","v":0.71},
      {"s":"Con1","m":"row8","v":2.37},{"s":"Con2","m":"row8","v":2.19},{"s":"Con3","m":"row8","v":1.44},{"s":"H2O2_1","m":"row8","v":1.21},{"s":"H2O2_2","m":"row8","v":0.415},{"s":"H2O2_3","m":"row8","v":0.71},
      {"s":"Con1","m":"row9","v":2.37},{"s":"Con2","m":"row9","v":2.19},{"s":"Con3","m":"row9","v":1.44},{"s":"H2O2_1","m":"row9","v":1.21},{"s":"H2O2_2","m":"row9","v":0.415},{"s":"H2O2_3","m":"row9","v":0.71},
      {"s":"Con1","m":"miR-708","v":2.37},{"s":"Con2","m":"miR-708","v":2.19},{"s":"Con3","m":"miR-708","v":1.44},{"s":"H2O2_1","m":"miR-708","v":1.21},{"s":"H2O2_2","m":"miR-708","v":0.415},{"s":"H2O2_3","m":"miR-708","v":0.71},
      {"s":"Con1","m":"row11","v":2.37},{"s":"Con2","m":"row11","v":2.19},{"s":"Con3","m":"row11","v":1.44},{"s":"H2O2_1","m":"row11","v":1.21},{"s":"H2O2_2","m":"row11","v":0.415},{"s":"H2O2_3","m":"row11","v":0.71},
      {"s":"Con1","m":"row12","v":2.37},{"s":"Con2","m":"row12","v":2.19},{"s":"Con3","m":"row12","v":1.44},{"s":"H2O2_1","m":"row12","v":1.21},{"s":"H2O2_2","m":"row12","v":0.415},{"s":"H2O2_3","m":"row12","v":0.71},
      {"s":"Con1","m":"row13","v":2.37},{"s":"Con2","m":"row13","v":2.19},{"s":"Con3","m":"row13","v":1.44},{"s":"H2O2_1","m":"row13","v":1.21},{"s":"H2O2_2","m":"row13","v":0.415},{"s":"H2O2_3","m":"row13","v":0.71},
      {"s":"Con1","m":"row14","v":2.37},{"s":"Con2","m":"row14","v":2.19},{"s":"Con3","m":"row14","v":1.44},{"s":"H2O2_1","m":"row14","v":1.21},{"s":"H2O2_2","m":"row14","v":0.415},{"s":"H2O2_3","m":"row14","v":0.71},
      {"s":"Con1","m":"row15","v":2.37},{"s":"Con2","m":"row15","v":2.19},{"s":"Con3","m":"row15","v":1.44},{"s":"H2O2_1","m":"row15","v":1.21},{"s":"H2O2_2","m":"row15","v":0.415},{"s":"H2O2_3","m":"row15","v":0.71},
      {"s":"Con1","m":"row16","v":2.37},{"s":"Con2","m":"row16","v":2.19},{"s":"Con3","m":"row16","v":1.44},{"s":"H2O2_1","m":"row16","v":1.21},{"s":"H2O2_2","m":"row16","v":0.415},{"s":"H2O2_3","m":"row16","v":0.71},
      {"s":"Con1","m":"row17","v":2.37},{"s":"Con2","m":"row17","v":2.19},{"s":"Con3","m":"row17","v":1.44},{"s":"H2O2_1","m":"row17","v":1.21},{"s":"H2O2_2","m":"row17","v":0.415},{"s":"H2O2_3","m":"row17","v":0.71},
      {"s":"Con1","m":"row18","v":2.37},{"s":"Con2","m":"row18","v":2.19},{"s":"Con3","m":"row18","v":1.44},{"s":"H2O2_1","m":"row18","v":1.21},{"s":"H2O2_2","m":"row18","v":0.415},{"s":"H2O2_3","m":"row18","v":0.71},
      {"s":"Con1","m":"row19","v":2.37},{"s":"Con2","m":"row19","v":2.19},{"s":"Con3","m":"row19","v":1.44},{"s":"H2O2_1","m":"row19","v":1.21},{"s":"H2O2_2","m":"row19","v":0.415},{"s":"H2O2_3","m":"row19","v":0.71},
      {"s":"Con1","m":"row20","v":2.37},{"s":"Con2","m":"row20","v":2.19},{"s":"Con3","m":"row20","v":1.44},{"s":"H2O2_1","m":"row20","v":1.21},{"s":"H2O2_2","m":"row20","v":0.415},{"s":"H2O2_3","m":"row20","v":0.71}
    ],
    "annot": [
      {"s":"Con1","m":"tpye","t":"Con"},{"s":"Con2","m":"tpye","t":"Con"},{"s":"Con3","m":"tpye","t":"Con"},
      {"s":"H2O2_1","m":"tpye","t":"H₂O₂"},{"s":"H2O2_2","m":"tpye","t":"H₂O₂"},{"s":"H2O2_3","m":"tpye","t":"H₂O₂"}
    ],
    "dend": [
      {"a":0,"b":0,"h":0,"h2":0.13},{"a":1,"b":1,"h":0,"h2":0.13},{"a":0,"b":1,"h":0.13,"h2":0.13},
      {"a":2,"b":2,"h":0,"h2":0.122},{"a":3,"b":3,"h":0,"h2":0.122},{"a":2,"b":3,"h":0.122,"h2":0.122},
      {"a":4,"b":4,"h":0,"h2":0.158},{"a":5,"b":5,"h":0,"h2":0.158},{"a":4,"b":5,"h":0.158,"h2":0.158},
      {"a":2.5,"b":2.5,"h":0.122,"h2":0.507},{"a":4.5,"b":4.5,"h":0.158,"h2":0.507},{"a":2.5,"b":4.5,"h":0.507,"h2":0.507},
      {"a":0.5,"b":0.5,"h":0.13,"h2":1},{"a":3.5,"b":3.5,"h":0.507,"h2":1},{"a":0.5,"b":3.5,"h":1,"h2":1},
      {"a":-0.77,"b":-0.5,"h":-0.372,"h2":-0.372},{"a":-0.77,"b":-0.5,"h":-0.858,"h2":-0.858}
    ]
  },
  "concat": [
    {
      "hconcat": [
        {
          "width": 832, "height": 740,
          "layer": [
            {
              "data": {"name": "before"},
              "encoding": {"x": {"field": "i", "type": "quantitative", "scale": {"domain": [0.26, 6.74], "nice": false, "zero": false}, "axis": null}},
              "layer": [
                {"mark": {"type": "rule", "strokeDash": [7, 6], "strokeWidth": 1.5, "color": "black"},
                 "encoding": {"y": {"field": "lo", "type": "quantitative", "scale": {"domain": [-0.404, 0.96], "nice": false, "zero": false},
                   "axis": {"values": [-0.4, -0.2, 0, 0.2, 0.4, 0.6, 0.8], "format": ".1f", "labelAngle": -90, "labelAlign": "center", "labelBaseline": "bottom", "labelFontSize": 25, "tickSize": 14, "labelPadding": 11, "title": null}},
                   "y2": {"field": "q1"}}},
                {"mark": {"type": "rule", "strokeDash": [7, 6], "strokeWidth": 1.5, "color": "black"},
                 "encoding": {"y": {"field": "q3", "type": "quantitative"}, "y2": {"field": "hi"}}},
                {"mark": {"type": "tick", "orient": "horizontal", "size": 51, "thickness": 1.5, "color": "black", "opacity": 1},
                 "encoding": {"y": {"field": "hi", "type": "quantitative"}}},
                {"mark": {"type": "tick", "orient": "horizontal", "size": 51, "thickness": 1.5, "color": "black", "opacity": 1},
                 "encoding": {"y": {"field": "lo", "type": "quantitative"}}},
                {"mark": {"type": "bar", "orient": "vertical", "width": 102.7, "fill": "#0000FF", "stroke": "black", "strokeWidth": 1.2},
                 "encoding": {"y": {"field": "q1", "type": "quantitative"}, "y2": {"field": "q3"}}},
                {"mark": {"type": "tick", "orient": "horizontal", "size": 102.7, "thickness": 5, "color": "black", "opacity": 1},
                 "encoding": {"y": {"field": "med", "type": "quantitative"}}}
              ]
            },
            {"data": {"values": [{"t": "A"}]},
             "mark": {"type": "text", "fontSize": 82, "align": "left", "baseline": "alphabetic"},
             "encoding": {"x": {"datum": -0.79}, "y": {"datum": 0.948}, "text": {"field": "t"}}},
            {"data": {"values": [{"t": "Before normalization"}]},
             "mark": {"type": "text", "fontSize": 77, "align": "center", "baseline": "alphabetic"},
             "encoding": {"x": {"datum": 3.5}, "y": {"datum": 1.0006}, "text": {"field": "t"}}}
          ]
        },
        {
          "width": 830, "height": 740,
          "layer": [
            {
              "data": {"name": "after"},
              "encoding": {"x": {"field": "i", "type": "quantitative", "scale": {"domain": [0.26, 6.725], "nice": false, "zero": false}, "axis": null}},
              "layer": [
                {"mark": {"type": "rule", "strokeDash": [7, 6], "strokeWidth": 1.5, "color": "black"},
                 "encoding": {"y": {"field": "lo", "type": "quantitative", "scale": {"domain": [-0.309, 0.894], "nice": false, "zero": false},
                   "axis": {"values": [-0.2, 0, 0.2, 0.4, 0.6, 0.8], "format": ".1f", "labelAngle": -90, "labelAlign": "center", "labelBaseline": "bottom", "labelFontSize": 25, "tickSize": 14, "labelPadding": 11, "title": null}},
                   "y2": {"field": "q1"}}},
                {"mark": {"type": "rule", "strokeDash": [7, 6], "strokeWidth": 1.5, "color": "black"},
                 "encoding": {"y": {"field": "q3", "type": "quantitative"}, "y2": {"field": "hi"}}},
                {"mark": {"type": "tick", "orient": "horizontal", "size": 51, "thickness": 1.5, "color": "black", "opacity": 1},
                 "encoding": {"y": {"field": "hi", "type": "quantitative"}}},
                {"mark": {"type": "tick", "orient": "horizontal", "size": 51, "thickness": 1.5, "color": "black", "opacity": 1},
                 "encoding": {"y": {"field": "lo", "type": "quantitative"}}},
                {"mark": {"type": "bar", "orient": "vertical", "width": 102.7, "fill": "#FF0000", "stroke": "black", "strokeWidth": 1.2},
                 "encoding": {"y": {"field": "q1", "type": "quantitative"}, "y2": {"field": "q3"}}},
                {"mark": {"type": "tick", "orient": "horizontal", "size": 102.7, "thickness": 5, "color": "black", "opacity": 1},
                 "encoding": {"y": {"field": "med", "type": "quantitative"}}}
              ]
            },
            {"data": {"values": [{"t": "After normalization"}]},
             "mark": {"type": "text", "fontSize": 77, "align": "center", "baseline": "alphabetic"},
             "encoding": {"x": {"datum": 3.49}, "y": {"datum": 0.9298}, "text": {"field": "t"}}}
          ]
        }
      ],
      "spacing": 95,
      "bounds": "full"
    },
    {
      "hconcat": [
        {
          "width": 812, "height": 684,
          "view": {"stroke": null},
          "layer": [
            {"data": {"name": "band"},
             "mark": {"type": "area", "color": "black", "opacity": 1},
             "encoding": {
               "x": {"field": "p", "type": "quantitative", "scale": {"domain": [-0.344, 3.141], "nice": false, "zero": false},
                 "axis": {"values": [0, 0.5, 1, 1.5, 2, 2.5, 3], "format": ".1f", "tickSize": 12, "labelFontSize": 23, "labelPadding": 16, "title": "−log10(P.Value)", "titleFontSize": 23, "titlePadding": 28}},
               "y": {"field": "fc", "type": "quantitative", "scale": {"domain": [-2.93, 2.93], "nice": false, "zero": false},
                 "axis": {"values": [-2, -1, 0, 1, 2], "format": "d", "offset": -52, "labelAngle": -90, "labelAlign": "center", "labelBaseline": "bottom", "labelFontSize": 23, "tickSize": 12, "labelPadding": 15, "title": "logFC", "titleFontSize": 23, "titlePadding": 32}},
               "y2": {"field": "fc2"},
               "detail": {"field": "side"}
             }},
            {"data": {"name": "ns"},
             "mark": {"type": "circle", "size": 20, "color": "black", "opacity": 1},
             "encoding": {"x": {"field": "p", "type": "quantitative"}, "y": {"field": "fc", "type": "quantitative"}}},
            {"data": {"name": "up"},
             "mark": {"type": "circle", "size": 20, "color": "#FF0000", "opacity": 1},
             "encoding": {"x": {"field": "p", "type": "quantitative"}, "y": {"field": "fc", "type": "quantitative"}}},
            {"data": {"name": "down"},
             "mark": {"type": "circle", "size": 20, "color": "#00FF00", "opacity": 1},
             "encoding": {"x": {"field": "p", "type": "quantitative"}, "y": {"field": "fc", "type": "quantitative"}}},
            {"data": {"values": [{}]},
             "mark": {"type": "rule", "strokeDash": [15, 18], "strokeWidth": 4, "color": "black"},
             "encoding": {"x": {"datum": -0.121}, "x2": {"datum": 3.141}, "y": {"datum": 0}}},
            {"data": {"values": [{}]},
             "mark": {"type": "rule", "strokeWidth": 1.6, "color": "black"},
             "encoding": {"x": {"datum": -0.121}, "y": {"datum": -2.93}, "y2": {"datum": 2.93}}},
            {"data": {"values": [{}]},
             "mark": {"type": "rule", "strokeWidth": 1.6, "color": "black"},
             "encoding": {"x": {"datum": 3.141}, "y": {"datum": -2.93}, "y2": {"datum": 2.93}}},
            {"data": {"values": [{}]},
             "mark": {"type": "rule", "strokeWidth": 1.6, "color": "black"},
             "encoding": {"x": {"datum": -0.121}, "x2": {"datum": 3.141}, "y": {"datum": 2.93}}},
            {"data": {"values": [{}]},
             "mark": {"type": "rule", "strokeWidth": 1.6, "color": "black"},
             "encoding": {"x": {"datum": -0.121}, "x2": {"datum": 3.141}, "y": {"datum": -2.93}}},
            {"data": {"values": [{"t": "B"}]},
             "mark": {"type": "text", "fontSize": 82, "align": "left", "baseline": "alphabetic"},
             "encoding": {"x": {"datum": -0.928}, "y": {"datum": 3.085}, "text": {"field": "t"}}},
            {"data": {"values": [{"t": "Volcano"}]},
             "mark": {"type": "text", "fontSize": 25, "fontWeight": "bold", "align": "center", "baseline": "alphabetic"},
             "encoding": {"x": {"datum": 1.51}, "y": {"datum": 3.3}, "text": {"field": "t"}}}
          ]
        },
        {
          "width": 471, "height": 687,
          "view": {"stroke": null},
          "layer": [
            {
              "encoding": {
                "x": {"field": "s", "type": "nominal", "scale": {"domain": ["Con1", "Con2", "Con3", "H2O2_1", "H2O2_2", "H2O2_3"], "paddingInner": 0, "paddingOuter": 0}, "axis": null},
                "y": {"field": "m", "type": "nominal",
                  "scale": {"domain": ["tpye", "row1", "row2", "row3", "row4", "row5", "row6", "row7", "row8", "row9", "miR-708", "row11", "row12", "row13", "row14", "row15", "row16", "row17", "row18", "row19", "row20"], "paddingInner": 0, "paddingOuter": 1.4, "align": 1},
                  "axis": {"orient": "right", "domain": false, "ticks": false, "tickSize": 0, "labelPadding": 8, "labelFontSize": 23, "title": null,
                    "labelExpr": "datum.value == 'tpye' || datum.value == 'miR-708' ? datum.value : ''",
                    "labelFontWeight": {"condition": {"test": "datum.value == 'tpye'", "value": "bold"}, "value": "normal"}}}
              },
              "layer": [
                {"data": {"name": "heat"},
                 "mark": {"type": "rect", "stroke": "#9b9b9b", "strokeWidth": 1},
                 "encoding": {"color": {"field": "v", "type": "quantitative",
                   "scale": {"domain": [0.375, 0.7075, 1.04, 1.3725, 1.705, 2.0375, 2.37], "range": ["#4575B4", "#91BFDB", "#E0F3F8", "#FFFFBF", "#FEE090", "#FC8D59", "#D73027"], "interpolate": "rgb"},
                   "legend": {"orient": "none", "legendX": 689, "legendY": 63.7, "direction": "vertical", "gradientLength": 347, "gradientThickness": 23, "title": null, "values": [0.5, 1, 1.5, 2], "format": "~g", "labelFontSize": 21, "labelOffset": 10, "gradientStrokeWidth": 0, "padding": 0, "labelOverlap": false}}}},
                {"data": {"name": "annot"},
                 "mark": {"type": "rect", "stroke": "#9b9b9b", "strokeWidth": 1, "height": {"band": 0.84}},
                 "encoding": {"color": {"field": "t", "type": "nominal",
                   "scale": {"domain": ["Con", "H₂O₂"], "range": ["#00D9DF", "#FF928A"]},
                   "legend": {"orient": "none", "legendX": 757, "legendY": 62, "title": "tpye", "titleFontSize": 23, "titleFontWeight": "bold", "titlePadding": 4, "symbolType": "square", "symbolSize": 1050, "symbolStrokeColor": "#9b9b9b", "symbolStrokeWidth": 1.5, "symbolOpacity": 1, "rowPadding": 0, "labelFontSize": 25, "labelOffset": 4, "padding": 0}}}}
              ],
              "resolve": {"scale": {"color": "independent"}}
            },
            {
              "layer": [
                {"data": {"name": "dend"},
                 "mark": {"type": "rule", "color": "black", "strokeWidth": 1.5},
                 "encoding": {
                   "x": {"field": "a", "type": "quantitative", "scale": {"domain": [-0.5, 5.5], "nice": false, "zero": false}, "axis": null},
                   "x2": {"field": "b"},
                   "y": {"field": "h", "type": "quantitative", "scale": {"domain": [-5.102, 0.538], "nice": false, "zero": false}, "axis": null},
                   "y2": {"field": "h2"}
                 }},
                {"data": {"values": [{"t": "C"}]},
                 "mark": {"type": "text", "fontSize": 82, "align": "left", "baseline": "alphabetic"},
                 "encoding": {"x": {"datum": -1.41, "axis": null}, "y": {"datum": 0.669, "axis": null}, "text": {"field": "t"}}}
              ]
            }
          ],
          "resolve": {"scale": {"x": "independent", "y": "independent", "color": "independent"}}
        }
      ],
      "spacing": 61,
      "bounds": "full"
    }
  ],
  "columns": 1,
  "align": "none",
  "bounds": "full",
  "spacing": 59
}
